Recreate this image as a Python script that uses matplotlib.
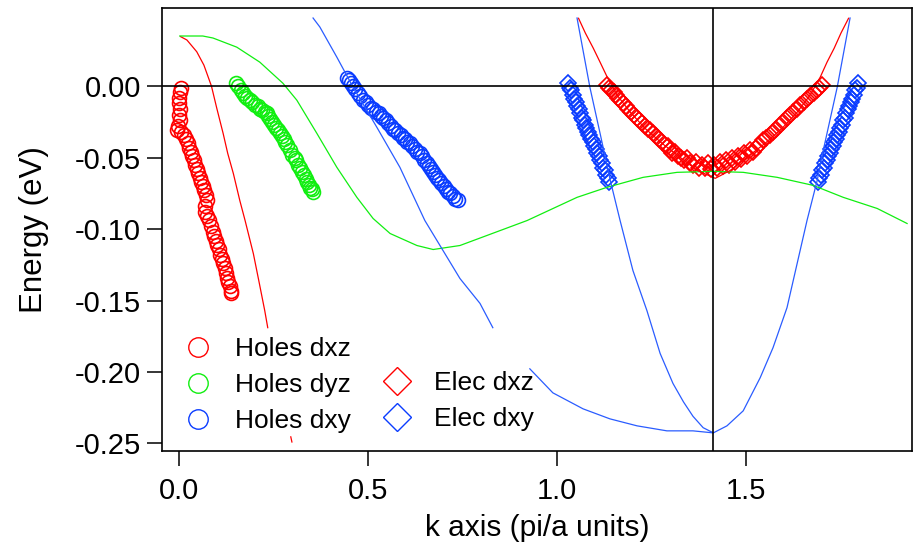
import matplotlib
matplotlib.use("Agg")
import matplotlib.pyplot as plt
from matplotlib.lines import Line2D

plt.rcParams['font.family'] = ['Liberation Sans', 'DejaVu Sans']
plt.rcParams['axes.unicode_minus'] = False

# ---- measured points (markers) ----
holes_dxz_k = [0.003, 0.001, -0.001, 0.000, 0.001, -0.002, 0.002, -0.004, -0.006, 0.004,
               0.012, 0.018, 0.022, 0.026, 0.030, 0.034, 0.038, 0.042, 0.046, 0.050,
               0.054, 0.058, 0.062, 0.066, 0.070, 0.072, 0.068, 0.068, 0.072, 0.078,
               0.084, 0.088, 0.092, 0.096, 0.100, 0.104, 0.108, 0.112, 0.116, 0.120,
               0.124, 0.127, 0.130, 0.133, 0.136, 0.138]
holes_dxz_e = [-0.001, -0.004, -0.008, -0.012, -0.016, -0.020, -0.024, -0.028, -0.031, -0.032,
               -0.034, -0.037, -0.040, -0.043, -0.046, -0.049, -0.052, -0.055, -0.058, -0.061,
               -0.064, -0.067, -0.070, -0.073, -0.076, -0.080, -0.084, -0.088, -0.091, -0.094,
               -0.098, -0.102, -0.105, -0.108, -0.111, -0.114, -0.118, -0.121, -0.124, -0.127,
               -0.131, -0.134, -0.137, -0.140, -0.143, -0.145]

holes_dyz_k = [0.150, 0.156, 0.162, 0.168, 0.174, 0.180, 0.187, 0.193, 0.200, 0.207,
               0.214, 0.220, 0.226, 0.231, 0.236, 0.241, 0.246, 0.251, 0.256, 0.261,
               0.266, 0.271, 0.276, 0.281, 0.286, 0.293, 0.299, 0.305, 0.310, 0.315,
               0.319, 0.324, 0.329, 0.334, 0.339, 0.343, 0.346, 0.350, 0.354]
holes_dyz_e = [0.002, 0.000, -0.003, -0.005, -0.007, -0.008, -0.010, -0.011, -0.013, -0.014,
               -0.016, -0.017, -0.018, -0.019, -0.021, -0.023, -0.025, -0.027, -0.029, -0.031,
               -0.033, -0.035, -0.037, -0.039, -0.041, -0.045, -0.048, -0.050, -0.052, -0.055,
               -0.057, -0.060, -0.062, -0.065, -0.067, -0.069, -0.071, -0.072, -0.074]

holes_dxy_k = [0.443, 0.448, 0.454, 0.460, 0.466, 0.472, 0.479, 0.486, 0.493, 0.500,
               0.507, 0.514, 0.521, 0.528, 0.534, 0.539, 0.546, 0.553, 0.560, 0.566,
               0.572, 0.579, 0.586, 0.592, 0.598, 0.604, 0.610, 0.617, 0.624, 0.630,
               0.637, 0.643, 0.649, 0.655, 0.661, 0.667, 0.672, 0.677, 0.682, 0.688,
               0.694, 0.700, 0.706, 0.712, 0.717, 0.724, 0.731, 0.738]
holes_dxy_e = [0.006, 0.004, 0.002, 0.000, -0.002, -0.005, -0.007, -0.010, -0.011, -0.013,
               -0.015, -0.016, -0.018, -0.019, -0.021, -0.022, -0.024, -0.026, -0.028, -0.030,
               -0.031, -0.033, -0.034, -0.036, -0.037, -0.039, -0.040, -0.042, -0.044, -0.046,
               -0.047, -0.049, -0.052, -0.054, -0.056, -0.058, -0.060, -0.062, -0.064, -0.066,
               -0.068, -0.070, -0.072, -0.074, -0.075, -0.077, -0.079, -0.080]

elec_dxz_k = [1.132, 1.138, 1.144, 1.150, 1.156, 1.162, 1.168, 1.175, 1.182, 1.189,
              1.196, 1.204, 1.211, 1.218, 1.226, 1.233, 1.240, 1.247, 1.254, 1.262,
              1.270, 1.278, 1.286, 1.294, 1.300, 1.305, 1.312, 1.320, 1.328, 1.336,
              1.344, 1.352, 1.360, 1.368, 1.376, 1.384, 1.392, 1.400, 1.408, 1.416,
              1.424, 1.432, 1.440, 1.448, 1.456, 1.464, 1.472, 1.480, 1.488, 1.496,
              1.504, 1.512, 1.520, 1.528, 1.536, 1.545, 1.554, 1.563, 1.572, 1.581,
              1.590, 1.599, 1.608, 1.617, 1.626, 1.635, 1.644, 1.653, 1.662, 1.671,
              1.680, 1.688, 1.695, 1.702]
elec_dxz_e = [0.001, -0.001, -0.003, -0.004, -0.006, -0.008, -0.010, -0.012, -0.014, -0.016,
              -0.018, -0.020, -0.022, -0.024, -0.026, -0.028, -0.030, -0.031, -0.033, -0.035,
              -0.037, -0.039, -0.041, -0.042, -0.045, -0.047, -0.046, -0.049, -0.050, -0.052,
              -0.050, -0.054, -0.055, -0.053, -0.057, -0.055, -0.057, -0.054, -0.058, -0.055,
              -0.057, -0.053, -0.056, -0.052, -0.055, -0.050, -0.053, -0.049, -0.051, -0.047,
              -0.049, -0.045, -0.046, -0.043, -0.041, -0.038, -0.036, -0.034, -0.032, -0.030,
              -0.027, -0.025, -0.022, -0.020, -0.018, -0.016, -0.013, -0.011, -0.009, -0.007,
              -0.005, -0.003, -0.001, 0.001]

elec_dxy_left_k = [1.030, 1.034, 1.038, 1.042, 1.046, 1.050, 1.054, 1.058, 1.062, 1.066,
                   1.070, 1.074, 1.078, 1.082, 1.086, 1.090, 1.094, 1.098, 1.102, 1.106,
                   1.110, 1.114, 1.118, 1.122, 1.126, 1.130, 1.134, 1.137]
elec_dxy_left_e = [0.002, -0.001, -0.003, -0.006, -0.009, -0.011, -0.014, -0.016, -0.019, -0.022,
                   -0.024, -0.027, -0.029, -0.032, -0.034, -0.037, -0.039, -0.042, -0.044, -0.047,
                   -0.049, -0.052, -0.054, -0.057, -0.059, -0.062, -0.064, -0.067]
elec_dxy_right_k = [1.798, 1.794, 1.790, 1.786, 1.782, 1.778, 1.774, 1.770, 1.766, 1.762,
                    1.758, 1.754, 1.750, 1.746, 1.742, 1.738, 1.734, 1.730, 1.726, 1.722,
                    1.718, 1.714, 1.710, 1.706, 1.702, 1.698, 1.694, 1.690]
elec_dxy_right_e = elec_dxy_left_e

# ---- model bands (lines) ----
band_dxz_k = [0.003, 0.020, 0.046, 0.065, 0.085, 0.099, 0.116, 0.128, 0.143, 0.160,
              0.174, 0.196, 0.211, 0.226, 0.234]
band_dxz_e = [0.0347, 0.0323, 0.0241, 0.0147, 0.000, -0.0154, -0.0332, -0.047, -0.0612, -0.080,
              -0.094, -0.1173, -0.137, -0.157, -0.169]
band_dxz_tail_k = [0.295, 0.298]
band_dxz_tail_e = [-0.2454, -0.249]

band_dyz_k = [0.001, 0.062, 0.089, 0.152, 0.213, 0.274, 0.311, 0.364, 0.417, 0.470,
              0.513, 0.558, 0.629, 0.672, 0.743, 0.921, 1.053, 1.132, 1.228, 1.318,
              1.413, 1.493, 1.583, 1.678, 1.758, 1.848, 1.927]
band_dyz_e = [0.0351, 0.0351, 0.0337, 0.0273, 0.0168, 0.0021, -0.0098, -0.033, -0.0568, -0.0778,
              -0.0926, -0.1031, -0.1115, -0.1143, -0.1115, -0.094, -0.0778, -0.0708, -0.0638, -0.0603,
              -0.0596, -0.0603, -0.0638, -0.0694, -0.0778, -0.0856, -0.0961]

band_dxy_k = [0.354, 0.372, 0.417, 0.460, 0.523, 0.584, 0.650, 0.743, 0.796, 0.830]
band_dxy_e = [0.0477, 0.0414, 0.0203, -0.0007, -0.0288, -0.0568, -0.094, -0.1346, -0.152, -0.169]
band_dxy_low_k = [0.928, 0.989, 1.069, 1.140, 1.212, 1.291, 1.360, 1.413]
band_dxy_low_e = [-0.1978, -0.2146, -0.2258, -0.2328, -0.2377, -0.2412, -0.2412, -0.2426]

elec_band_dxy_k = [1.053, 1.087, 1.114, 1.141, 1.167, 1.201, 1.238, 1.273, 1.307, 1.335,
                   1.360, 1.387, 1.414, 1.450, 1.493, 1.538, 1.572, 1.609, 1.662, 1.689,
                   1.705, 1.742, 1.776]
elec_band_dxy_e = [0.0477, -0.0007, -0.033, -0.0659, -0.094, -0.129, -0.157, -0.187, -0.208, -0.221,
                   -0.231, -0.239, -0.2426, -0.2377, -0.2272, -0.204, -0.183, -0.155, -0.094, -0.0659,
                   -0.0449, -0.0007, 0.0477]

elec_band_dxz_k = [1.057, 1.075, 1.096, 1.114, 1.133, 1.159, 1.194, 1.233, 1.278, 1.326,
                   1.371, 1.419, 1.459, 1.503, 1.551, 1.596, 1.636, 1.670, 1.697, 1.715,
                   1.734, 1.752, 1.772]
elec_band_dxz_e = [0.0475, 0.0372, 0.0266, 0.0168, 0.0063, -0.0063, -0.0182, -0.0295, -0.040, -0.0498,
                   -0.0589, -0.0645, -0.0589, -0.0498, -0.040, -0.0295, -0.0182, -0.0063, 0.0063, 0.0168,
                   0.0266, 0.0372, 0.0475]

k_gamma = 1.414

x_ticks = [0.0, 0.5, 1.0, 1.5]
y_ticks = [0.00, -0.05, -0.10, -0.15, -0.20, -0.25]

RED = '#ff0000'
GREEN = '#11ee11'
BLUE = '#0a3cff'
BLUE_LINE = '#2a5cff'

fig = plt.figure(figsize=(9.14, 5.58), dpi=100)
ax = fig.add_axes([162 / 914, 1 - 451 / 558, 750 / 914, 443 / 558])

circ = dict(ls='none', marker='o', mfc='none', ms=10, mew=1.2, zorder=2)
diam = dict(ls='none', marker='D', mfc='none', ms=8.5, mew=1.2, zorder=2)
ax.plot(holes_dxz_k, holes_dxz_e, mec=RED, **circ)
ax.plot(holes_dyz_k, holes_dyz_e, mec=GREEN, **circ)
ax.plot(holes_dxy_k, holes_dxy_e, mec=BLUE, **circ)
ax.plot(elec_dxz_k, elec_dxz_e, mec=RED, **diam)
ax.plot(elec_dxy_left_k, elec_dxy_left_e, mec=BLUE, **diam)
ax.plot(elec_dxy_right_k, elec_dxy_right_e, mec=BLUE, **diam)

lw = 0.9
ax.plot(band_dxz_k, band_dxz_e, color=RED, lw=lw, zorder=3)
ax.plot(band_dxz_tail_k, band_dxz_tail_e, color=RED, lw=lw, zorder=3)
ax.plot(band_dyz_k, band_dyz_e, color=GREEN, lw=lw, zorder=3)
ax.plot(band_dxy_k, band_dxy_e, color=BLUE_LINE, lw=lw, zorder=3)
ax.plot(band_dxy_low_k, band_dxy_low_e, color=BLUE_LINE, lw=lw, zorder=3)
ax.plot(elec_band_dxy_k, elec_band_dxy_e, color=BLUE_LINE, lw=lw, zorder=3)
ax.plot(elec_band_dxz_k, elec_band_dxz_e, color=RED, lw=lw, zorder=3)

ax.axhline(0, color='black', lw=1.2, zorder=4)
ax.axvline(k_gamma, color='black', lw=1.2, zorder=4)

ax.set_xlim(-0.046, 1.940)
ax.set_ylim(-0.2553, 0.0547)
ax.set_xticks(x_ticks)
ax.set_xticklabels(['%.1f' % v for v in x_ticks])
ax.set_yticks(y_ticks)
ax.set_yticklabels(['%.2f' % v for v in y_ticks])
ax.tick_params(direction='out', length=11, width=1.1, labelsize=21)
ax.tick_params(axis='y', pad=4)
ax.tick_params(axis='x', pad=8)
for s in ax.spines.values():
    s.set_linewidth(1.2)

ax.set_xlabel('k axis (pi/a units)', fontsize=21.5, labelpad=6)
ax.set_ylabel('Energy (eV)', fontsize=22.5, labelpad=19)

leg_font = {'size': 19}
h1 = [Line2D([], [], ls='none', marker='o', mfc='none', mec=c, ms=14, mew=1.0)
      for c in (RED, GREEN, BLUE)]
leg1 = ax.legend(h1, ['Holes dxz', 'Holes dyz', 'Holes dxy'], prop=leg_font,
                 frameon=False, loc='upper left', borderpad=0, borderaxespad=0,
                 handlelength=1.2, handletextpad=0.8, labelspacing=0.45,
                 bbox_to_anchor=(182 / 914, 1 - 337 / 558),
                 bbox_transform=fig.transFigure)
ax.add_artist(leg1)
h2 = [Line2D([], [], ls='none', marker='D', mfc='none', mec=c, ms=14, mew=1.0)
      for c in (RED, BLUE)]
ax.legend(h2, ['Elec dxz', 'Elec dxy'], prop=leg_font,
          frameon=False, loc='upper left', borderpad=0, borderaxespad=0,
          handlelength=1.2, handletextpad=0.8, labelspacing=0.45,
          bbox_to_anchor=(381 / 914, 1 - 371 / 558),
          bbox_transform=fig.transFigure)

fig.savefig('out.png', dpi=100)
